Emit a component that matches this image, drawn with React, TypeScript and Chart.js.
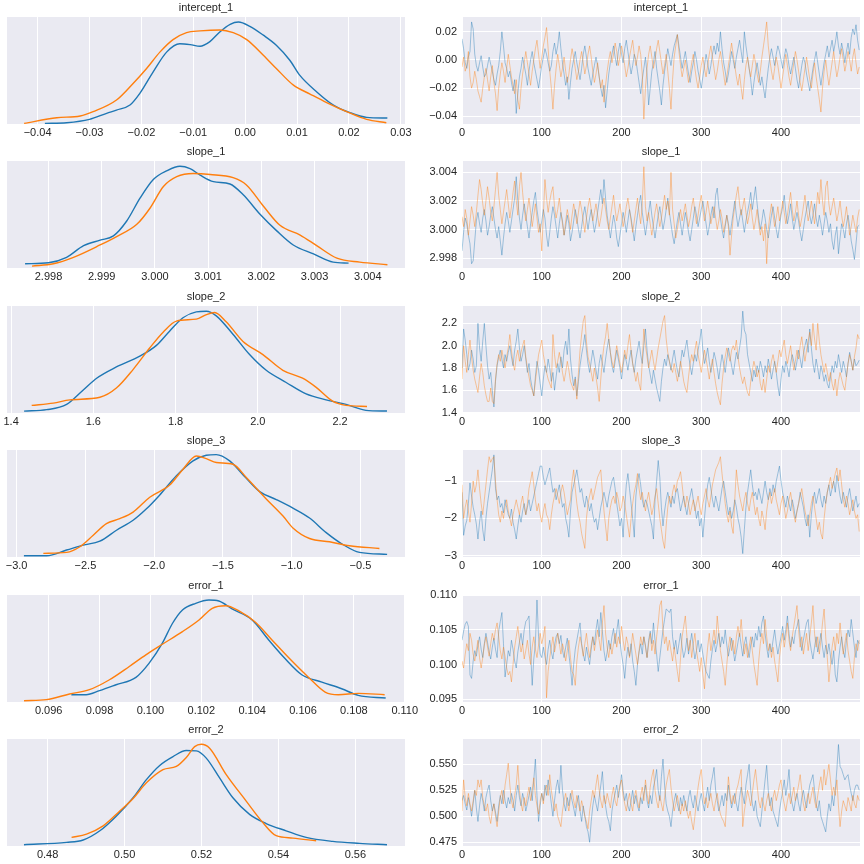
import React, { useEffect, useRef } from 'react';
import { Chart, registerables } from 'chart.js';

Chart.register(...registerables);

// ---------- styling constants ----------
const BLUE = '#1f77b4';
const ORANGE = '#ff7f0e';
const BLUE_TRACE = 'rgba(31,119,180,0.4)';
const ORANGE_TRACE = 'rgba(255,127,14,0.4)';
const TEXT = '#262626';
const PLOT_BG = '#EAEAF2';
const FONT_FAMILY = "'Liberation Sans', Arial, Helvetica, sans-serif";

// ---------- trace data (every 2nd iteration of 500) ----------
const ITER_STEP = 2;
const TRACE_X_TICKS = [0, 100, 200, 300, 400];

const interceptTraceBlue = [
  0.015, 0.008, -0.002, -0.006, 0.002, 0.006, 0.027, 0.022, 0.004, -0.004,
  -0.008, -0.002, 0.003, -0.005, -0.012, -0.010, -0.004, 0.002, -0.003, -0.008,
  -0.014, -0.018, -0.010, -0.004, 0.006, 0.020, 0.010, -0.002, -0.006, -0.012,
  -0.008, -0.016, -0.022, -0.014, -0.038, -0.024, -0.012, -0.006, 0.002, -0.004,
  -0.010, -0.018, -0.008, 0, 0.006, -0.002, -0.008, -0.014, -0.020, -0.012,
  -0.004, 0.002, 0.008, 0.004, -0.002, -0.008, -0.004, 0.006, 0.012, 0.004,
  0.010, 0.020, 0.008, -0.002, -0.010, -0.018, -0.012, -0.028, -0.016, -0.006,
  0, 0.006, -0.002, -0.008, -0.014, -0.006, 0.004, 0.010, 0.002, -0.006,
  -0.012, -0.018, -0.010, -0.004, 0.002, -0.004, -0.012, -0.020, -0.026, -0.018,
  -0.034, -0.022, -0.010, -0.002, 0.004, 0.010, 0.002, -0.004, 0.006, 0.012,
  0.004, -0.002, 0.008, 0.014, 0.006, -0.002, -0.010, -0.004, 0.004, 0,
  -0.008, -0.016, -0.024, -0.014, -0.006, 0.002, -0.010, -0.032, -0.020, -0.008,
  -0.002, 0.006, -0.006, -0.014, -0.022, -0.032, -0.018, -0.008, 0, 0.008,
  0.002, -0.004, 0.004, 0.010, 0.014, 0.018, 0.010, 0.002, -0.006, 0,
  0.006, -0.002, -0.010, -0.016, -0.008, -0.002, 0.006, 0, -0.008, -0.014,
  -0.020, -0.012, -0.004, 0.004, -0.002, -0.010, -0.004, 0.004, 0.010, 0.004,
  0.012, 0.006, 0.020, 0.008, -0.002, -0.008, -0.016, -0.010, -0.002, 0.006,
  0, -0.006, 0.002, 0.008, 0.014, 0.006, -0.002, 0.020, 0.010, 0.002,
  -0.006, -0.014, -0.025, -0.016, -0.008, -0.002, -0.010, -0.018, -0.012, -0.020,
  -0.027, -0.016, -0.006, 0.002, 0.008, 0.002, -0.004, 0.004, 0.010, 0.006,
  0, -0.006, 0.002, 0.008, 0.004, -0.004, -0.010, -0.004, 0.002, -0.006,
  -0.014, -0.020, -0.012, -0.004, 0.002, -0.002, -0.010, -0.016, -0.022, -0.014,
  -0.006, 0, 0.006, -0.002, -0.010, -0.018, -0.010, -0.002, 0.004, 0.010,
  0.002, 0.008, 0.014, 0.006, 0.012, 0.020, 0.010, 0.004, 0.012, 0.006,
  -0.002, 0.006, 0.012, 0.004, 0.016, 0.022, 0.018, 0.025, 0.014, 0.007,
];
const interceptTraceOrange = [
  -0.005, 0.002, -0.008, -0.004, 0.006, -0.012, -0.020, -0.016, -0.008, -0.014,
  -0.022, -0.026, -0.030, -0.020, -0.012, -0.006, -0.014, -0.022, -0.012, -0.004,
  -0.016, -0.024, -0.036, -0.020, -0.010, -0.002, -0.008, -0.016, -0.006, 0.004,
  -0.004, -0.012, -0.018, -0.024, -0.014, -0.028, -0.035, -0.020, -0.010, -0.002,
  0.006, -0.002, -0.010, -0.018, -0.008, 0, 0.008, 0.014, 0.004, -0.006,
  0.002, 0.010, 0.016, 0.023, 0.008, -0.008, -0.020, -0.035, -0.018, -0.006,
  0.004, -0.004, -0.012, -0.006, 0.002, -0.008, -0.016, -0.010, 0, 0.008,
  0.002, -0.006, -0.014, -0.008, 0, 0.006, -0.002, -0.010, -0.004, 0.004,
  0.010, 0.002, -0.008, -0.016, -0.010, -0.002, -0.012, -0.020, -0.014, -0.030,
  -0.018, -0.008, 0, 0.006, -0.002, 0.004, 0.012, 0.006, -0.004, 0.002,
  0.010, 0.004, -0.004, -0.012, -0.006, 0.002, 0.008, 0.014, 0.004, -0.004,
  0.002, 0.010, 0.004, -0.010, -0.042, -0.020, -0.006, 0.004, 0.010, 0.002,
  -0.006, 0, 0.008, 0.014, 0.006, -0.002, -0.010, -0.004, 0.004, -0.008,
  -0.020, -0.035, -0.014, 0.002, 0.010, 0.018, 0.006, -0.004, -0.012, -0.006,
  0, -0.008, -0.016, -0.010, -0.002, 0.004, -0.006, -0.014, -0.020, -0.012,
  -0.004, 0.002, -0.006, -0.012, -0.004, 0.004, 0.010, 0.002, -0.006, -0.014,
  -0.008, 0, 0.006, -0.002, -0.010, -0.018, -0.012, -0.004, 0.004, 0.012,
  0.004, -0.004, -0.012, -0.018, -0.010, -0.020, -0.028, -0.014, -0.004, 0.002,
  -0.006, -0.012, -0.004, 0.004, -0.002, -0.010, -0.016, -0.008, 0.002, 0.010,
  0.018, 0.027, 0.010, 0, -0.008, -0.014, -0.006, 0.002, -0.004, -0.012,
  -0.020, -0.012, -0.004, 0.004, -0.004, -0.012, -0.018, -0.010, -0.002, 0.006,
  0, -0.008, -0.016, -0.022, -0.014, -0.006, 0.002, -0.006, -0.014, -0.020,
  -0.010, -0.002, -0.012, -0.020, -0.028, -0.037, -0.020, -0.008, 0, -0.010,
  -0.018, -0.010, -0.002, 0.006, -0.004, -0.012, -0.006, 0.002, 0.008, 0,
  -0.008, -0.002, 0.006, 0, -0.008, 0.002, 0.008, -0.002, -0.010, -0.005,
];

const slope1TraceBlue = [
  2.9985, 2.9998, 3.0008, 3.0004, 2.9996, 2.9990, 2.9976, 2.9978, 2.9992, 3.0006,
  3.0012, 3.0004, 2.9998, 3.0008, 3.0014, 3.0006, 2.9996, 3.0002, 3.0010, 3.0016,
  3.0008, 3.0000, 2.9994, 3.0002, 2.9992, 2.9982, 2.9994, 3.0004, 3.0012, 3.0006,
  2.9998, 3.0006, 3.0014, 3.0022, 3.0037, 3.0020, 3.0008, 3.0000, 3.0010, 3.0018,
  3.0010, 3.0002, 2.9994, 3.0004, 3.0012, 3.0020, 3.0026, 3.0014, 3.0006, 2.9998,
  3.0006, 3.0014, 3.0008, 2.9996, 2.9988, 2.9998, 3.0008, 3.0016, 3.0010, 3.0002,
  2.9994, 3.0004, 3.0012, 3.0006, 2.9996, 3.0002, 3.0010, 3.0004, 2.9992, 2.9998,
  3.0006, 3.0014, 3.0008, 3.0000, 2.9994, 3.0002, 3.0010, 3.0016, 3.0008, 3.0000,
  3.0008, 3.0014, 3.0006, 2.9998, 3.0004, 3.0012, 3.0020, 3.0028, 3.0018, 3.0035,
  3.0022, 3.0010, 3.0002, 2.9994, 3.0002, 3.0010, 3.0004, 2.9994, 2.9988, 2.9996,
  3.0004, 3.0012, 3.0006, 2.9998, 3.0006, 3.0014, 3.0008, 3.0000, 2.9992, 3.0002,
  3.0010, 3.0018, 3.0024, 3.0012, 3.0004, 2.9996, 3.0004, 3.0012, 3.0020, 3.0010,
  3.0002, 2.9994, 3.0002, 3.0010, 3.0016, 3.0008, 3.0000, 3.0006, 3.0014, 3.0022,
  3.0012, 3.0004, 2.9996, 2.9990, 2.9998, 3.0006, 3.0012, 3.0004, 2.9996, 3.0004,
  3.0012, 3.0006, 2.9998, 2.9992, 3.0000, 3.0008, 3.0016, 3.0010, 3.0002, 3.0008,
  3.0014, 3.0020, 3.0012, 3.0004, 2.9996, 3.0002, 3.0010, 3.0016, 3.0008, 3.0024,
  3.0029, 3.0016, 3.0008, 3.0000, 2.9994, 3.0002, 3.0010, 3.0004, 2.9996, 3.0004,
  3.0012, 3.0020, 3.0010, 3.0002, 3.0008, 3.0014, 3.0006, 2.9998, 3.0006, 3.0012,
  3.0018, 3.0026, 3.0014, 3.0022, 3.0030, 3.0018, 3.0008, 3.0000, 3.0006, 3.0014,
  3.0008, 3.0000, 2.9994, 3.0002, 3.0010, 3.0016, 3.0008, 3.0000, 2.9994, 3.0002,
  3.0010, 3.0016, 3.0024, 3.0012, 3.0004, 3.0010, 3.0018, 3.0008, 3.0000, 3.0006,
  3.0012, 3.0006, 2.9998, 2.9992, 3.0000, 3.0008, 3.0014, 3.0020, 3.0010, 3.0004,
  3.0010, 3.0018, 3.0008, 3.0002, 3.0010, 3.0004, 2.9996, 3.0004, 3.0012, 3.0006,
  2.9998, 3.0004, 2.9992, 2.9986, 2.9996, 3.0002, 2.9983, 2.9994, 3.0004, 3.0000,
  2.9994, 3.0004, 3.0010, 3.0002, 2.9992, 2.9986, 2.9979, 2.9990, 3.0002, 3.0003,
];
const slope1TraceOrange = [
  3.0009, 3.0002, 3.0014, 3.0008, 2.9996, 3.0006, 3.0016, 3.0010, 3.0002, 3.0012,
  3.0024, 3.0035, 3.0028, 3.0018, 3.0010, 3.0020, 3.0030, 3.0022, 3.0012, 3.0006,
  3.0016, 3.0028, 3.0040, 3.0024, 3.0014, 3.0004, 3.0012, 3.0020, 3.0028, 3.0018,
  3.0008, 3.0016, 3.0026, 3.0034, 3.0020, 3.0010, 3.0030, 3.0040, 3.0026, 3.0014,
  3.0006, 3.0014, 3.0022, 3.0012, 3.0002, 3.0010, 3.0018, 3.0008, 2.9998, 3.0004,
  2.9985, 3.0010, 3.0035, 3.0022, 3.0012, 3.0020, 3.0026, 3.0030, 3.0016, 3.0008,
  3.0014, 3.0022, 3.0012, 3.0004, 2.9996, 3.0006, 3.0014, 3.0008, 3.0000, 3.0010,
  3.0018, 3.0012, 3.0004, 3.0012, 3.0020, 3.0014, 3.0006, 2.9998, 3.0008, 3.0016,
  3.0022, 3.0014, 3.0006, 3.0012, 3.0018, 3.0010, 3.0002, 3.0008, 3.0016, 3.0022,
  3.0014, 3.0006, 3.0000, 3.0008, 3.0016, 3.0024, 3.0014, 3.0006, 3.0012, 3.0018,
  3.0010, 3.0002, 3.0008, 3.0016, 3.0022, 3.0014, 3.0006, 2.9998, 3.0006, 3.0014,
  3.0022, 3.0012, 3.0004, 3.0018, 3.0044, 3.0016, 3.0006, 3.0012, 3.0004, 2.9996,
  3.0004, 3.0012, 3.0018, 3.0010, 3.0002, 3.0008, 3.0016, 3.0024, 3.0014, 3.0020,
  3.0010, 3.0040, 3.0014, 3.0004, 2.9994, 3.0000, 3.0008, 3.0014, 3.0006, 3.0012,
  3.0018, 3.0010, 3.0002, 3.0008, 3.0016, 3.0022, 3.0012, 3.0004, 3.0010, 3.0018,
  3.0024, 3.0014, 3.0006, 3.0012, 3.0020, 3.0012, 3.0004, 3.0010, 3.0016, 3.0008,
  3.0000, 3.0006, 3.0014, 3.0008, 2.9998, 3.0004, 3.0010, 3.0002, 2.9982, 2.9996,
  3.0008, 3.0016, 3.0024, 3.0030, 3.0018, 3.0010, 3.0016, 3.0022, 3.0012, 3.0004,
  3.0010, 3.0018, 3.0008, 3.0000, 3.0006, 3.0014, 3.0004, 2.9996, 3.0002, 2.9992,
  3.0004, 2.9976, 3.0000, 3.0010, 3.0018, 3.0010, 3.0002, 3.0008, 3.0016, 3.0006,
  3.0012, 3.0020, 3.0012, 3.0004, 3.0010, 3.0018, 3.0026, 3.0014, 3.0006, 3.0012,
  3.0020, 3.0010, 3.0002, 3.0008, 3.0016, 3.0024, 3.0014, 3.0006, 3.0012, 3.0020,
  3.0012, 3.0004, 3.0014, 3.0026, 3.0018, 3.0035, 3.0020, 3.0010, 3.0030, 3.0034,
  3.0018, 3.0010, 3.0016, 3.0022, 3.0014, 3.0006, 3.0012, 3.0020, 3.0010, 3.0002,
  3.0008, 3.0016, 3.0006, 2.9996, 3.0002, 3.0010, 3.0004, 2.9998, 3.0008, 3.0014,
];

const slope2TraceBlue = [
  1.80, 2.15, 2.05, 1.92, 1.78, 1.84, 1.96, 1.88, 1.76, 1.82,
  2.20, 1.98, 1.86, 2.04, 2.20, 2.00, 1.82, 1.70, 1.76, 1.60,
  1.45, 1.68, 1.82, 1.90, 1.96, 1.88, 1.80, 1.92, 1.86, 1.94,
  2.00, 1.90, 1.82, 1.96, 2.04, 2.15, 1.98, 1.86, 1.92, 2.00,
  1.88, 1.76, 1.84, 1.70, 1.62, 1.55, 1.72, 1.86, 1.78, 1.66,
  1.55, 1.70, 1.82, 1.76, 1.88, 1.80, 1.68, 1.76, 1.60, 1.72,
  1.84, 1.76, 1.90, 1.80, 1.96, 2.04, 1.92, 2.15, 1.88, 1.74,
  1.64, 1.72, 1.55, 1.68, 1.82, 1.92, 2.00, 2.10, 1.96, 1.84,
  1.76, 1.86, 1.96, 1.88, 1.78, 1.70, 1.84, 1.92, 1.84, 1.76,
  1.88, 1.98, 2.06, 1.94, 1.82, 1.76, 1.86, 1.96, 1.88, 1.80,
  1.70, 1.82, 1.92, 1.86, 1.78, 1.88, 1.96, 1.84, 1.76, 1.88,
  1.96, 2.04, 1.92, 1.84, 2.00, 2.15, 1.96, 1.82, 1.74, 1.66,
  1.78, 1.70, 1.62, 1.56, 1.50, 1.68, 1.80, 1.88, 1.82, 1.92,
  1.86, 1.78, 1.88, 1.96, 1.86, 1.78, 1.72, 1.84, 1.96, 1.90,
  1.98, 2.05, 1.92, 1.82, 1.74, 1.84, 1.92, 1.86, 1.96, 2.04,
  2.15, 1.96, 1.84, 1.90, 1.98, 1.86, 1.76, 1.84, 1.94, 1.88,
  1.80, 1.70, 1.82, 1.92, 1.84, 1.76, 1.88, 1.98, 1.90, 1.82,
  1.74, 1.84, 1.94, 1.88, 1.98, 2.08, 2.31, 2.14, 2.10, 1.92,
  1.84, 1.76, 1.68, 1.78, 1.72, 1.82, 1.76, 1.86, 1.80, 1.72,
  1.82, 1.76, 1.88, 1.80, 1.70, 1.78, 1.86, 1.76, 1.64, 1.55,
  1.70, 1.82, 1.76, 1.86, 1.80, 1.72, 1.84, 1.92, 1.86, 1.78,
  1.86, 1.96, 1.88, 1.80, 1.92, 2.00, 2.06, 1.94, 2.15, 1.98,
  1.84, 1.76, 1.88, 1.80, 1.70, 1.82, 1.76, 1.68, 1.74, 1.66,
  1.62, 1.72, 1.82, 1.76, 1.86, 1.80, 1.92, 1.84, 1.76, 1.86,
  1.80, 1.72, 1.84, 1.94, 1.86, 1.78, 1.88, 1.82, 1.84, 1.87,
];
const slope2TraceOrange = [
  1.70, 2.00, 1.86, 1.76, 1.92, 2.05, 1.90, 1.78, 1.70, 1.64,
  1.58, 1.72, 1.84, 1.76, 1.64, 1.56, 1.50, 1.50, 1.62, 1.50,
  1.48, 1.70, 1.84, 1.92, 1.86, 1.96, 1.88, 1.80, 1.90, 1.98,
  2.10, 1.96, 1.84, 1.78, 1.90, 1.96, 1.86, 1.94, 2.00, 2.05,
  1.90, 1.80, 1.72, 1.64, 1.60, 1.55, 1.68, 1.80, 1.92, 1.98,
  2.05, 1.92, 1.84, 1.76, 1.70, 1.66, 1.62, 2.10, 1.92, 1.80,
  1.86, 1.94, 1.86, 1.76, 1.68, 1.76, 1.86, 1.78, 1.68, 1.64,
  1.60, 1.70, 1.52, 1.76, 1.96, 2.10, 2.22, 2.27, 2.04, 1.90,
  1.84, 1.76, 1.68, 1.80, 1.72, 1.62, 1.50, 1.70, 1.88, 2.00,
  2.08, 2.20, 2.06, 1.94, 1.86, 1.80, 1.90, 2.00, 1.92, 1.84,
  1.76, 1.86, 1.96, 1.88, 2.00, 2.10, 1.96, 1.84, 1.76, 1.68,
  1.76, 1.66, 1.60, 1.86, 2.15, 2.00, 1.90, 1.80, 1.88, 1.96,
  1.86, 1.78, 1.88, 1.98, 2.06, 2.14, 2.22, 2.27, 2.06, 1.94,
  1.86, 1.80, 1.76, 1.84, 1.76, 1.68, 1.76, 1.86, 1.78, 1.68,
  1.62, 1.58, 1.72, 1.84, 1.92, 1.86, 1.96, 2.04, 1.92, 1.84,
  1.76, 1.86, 1.96, 1.88, 1.80, 1.70, 1.80, 1.88, 1.76, 1.66,
  1.58, 1.52, 1.47, 1.66, 1.80, 1.90, 1.98, 1.92, 1.86, 1.96,
  2.00, 1.96, 2.05, 1.90, 1.80, 1.72, 1.66, 1.72, 1.64, 1.58,
  1.55, 1.68, 1.78, 1.86, 1.80, 1.72, 1.78, 1.66, 1.60, 1.70,
  1.58, 1.70, 1.82, 1.76, 1.86, 1.92, 1.84, 1.76, 1.86, 1.96,
  1.90, 1.98, 2.05, 1.92, 1.84, 1.92, 2.00, 1.88, 1.78, 1.86,
  1.96, 1.88, 2.00, 2.08, 1.96, 1.86, 1.96, 2.04, 2.12, 2.00,
  2.20, 2.06, 1.96, 2.20, 2.04, 1.92, 1.84, 1.76, 1.84, 1.76,
  1.68, 1.76, 1.66, 1.60, 1.70, 1.55, 1.68, 1.76, 1.70, 1.64,
  1.60, 1.72, 1.84, 1.92, 1.86, 1.78, 1.90, 1.98, 2.10, 2.06,
];

const slope3TraceBlue = [
  -1.30, -2.45, -2.20, -2.05, -1.60, -1.05, -1.40, -1.70, -1.90, -2.15,
  -2.55, -2.10, -1.80, -2.30, -2.60, -2.00, -1.60, -1.30, -1.00, -0.70,
  -0.30, -1.20, -1.50, -1.40, -1.70, -1.60, -1.85, -1.50, -1.70, -1.90,
  -2.00, -1.75, -2.10, -2.30, -2.55, -2.20, -1.90, -2.10, -1.80, -1.60,
  -1.90, -1.70, -1.50, -1.80, -1.60, -1.40, -1.20, -1.00, -0.80, -0.60,
  -0.60, -0.90, -1.10, -0.95, -0.80, -0.65, -1.00, -1.30, -1.20, -1.50,
  -1.30, -1.10, -1.40, -1.70, -1.60, -2.00, -2.20, -2.50, -1.80, -1.30,
  -1.10, -0.90, -0.70, -1.00, -1.30, -1.20, -1.50, -1.70, -1.40, -1.60,
  -1.80, -1.60, -1.90, -2.10, -2.00, -2.30, -2.00, -1.70, -1.50, -1.30,
  -1.50, -1.70, -1.40, -1.20, -1.00, -0.90, -1.20, -1.60, -1.90, -2.20,
  -2.00, -2.50, -1.70, -1.10, -0.80, -1.20, -1.60, -2.00, -2.50, -1.40,
  -1.00, -0.80, -1.10, -1.50, -1.70, -1.50, -1.60, -1.80, -2.00, -2.20,
  -2.55, -1.50, -1.00, -0.45, -0.90, -1.70, -2.20, -1.80, -1.50, -1.30,
  -1.50, -1.70, -1.40, -1.60, -1.30, -1.20, -1.50, -1.80, -1.60, -1.40,
  -1.70, -1.90, -1.60, -1.40, -1.20, -1.50, -1.70, -2.00, -1.80, -2.20,
  -2.00, -2.50, -2.00, -1.50, -1.10, -0.90, -1.20, -1.50, -1.70, -1.40,
  -1.60, -1.80, -1.50, -1.20, -1.00, -1.30, -1.60, -1.90, -1.70, -2.00,
  -1.80, -1.50, -1.70, -2.00, -2.20, -2.50, -2.94, -2.30, -1.70, -1.30,
  -1.00, -0.70, -1.10, -1.40, -1.30, -1.50, -1.20, -1.40, -1.60, -1.30,
  -1.00, -1.30, -1.50, -1.20, -1.40, -1.10, -1.30, -1.00, -0.80, -0.60,
  -1.00, -1.30, -1.50, -1.70, -1.40, -1.60, -1.80, -1.50, -1.70, -2.00,
  -1.80, -1.60, -1.30, -1.50, -1.70, -2.00, -2.20, -1.90, -2.50, -1.90,
  -1.50, -1.30, -1.60, -1.40, -1.20, -1.50, -1.70, -1.40, -1.60, -1.30,
  -1.10, -1.40, -1.20, -1.00, -1.30, -0.85, -1.10, -1.40, -1.60, -1.30,
  -1.50, -1.70, -1.40, -1.20, -1.50, -1.80, -1.60, -1.40, -1.70, -1.60,
];
const slope3TraceOrange = [
  -1.10, -2.00, -1.70, -1.50, -1.80, -2.10, -1.60, -1.00, -1.30, -1.10,
  -0.70, -1.20, -1.60, -1.90, -1.50, -1.10, -0.70, -0.35, -0.50, -0.40,
  -0.35, -1.00, -1.50, -1.90, -2.10, -1.80, -2.00, -1.70, -1.50, -1.80,
  -2.00, -2.20, -1.90, -1.70, -1.50, -1.70, -1.90, -1.60, -1.40, -1.70,
  -1.90, -1.60, -1.20, -1.00, -0.75, -1.10, -1.50, -1.80, -1.60, -1.90,
  -2.10, -1.80, -1.60, -1.90, -2.00, -2.30, -1.90, -1.60, -1.40, -1.20,
  -1.40, -1.60, -1.30, -1.10, -1.30, -1.60, -1.90, -1.70, -1.50, -1.00,
  -0.70, -1.20, -1.60, -1.90, -2.10, -2.40, -2.60, -2.80, -2.00, -1.60,
  -1.40, -1.20, -1.50, -1.30, -1.10, -0.90, -0.80, -0.70, -1.30, -1.80,
  -2.20, -2.60, -2.00, -1.70, -1.50, -1.40, -1.60, -1.30, -1.50, -1.80,
  -1.70, -1.40, -1.60, -1.90, -2.20, -2.50, -2.00, -1.60, -1.30, -1.10,
  -0.80, -1.20, -1.50, -1.30, -1.60, -1.80, -1.50, -1.30, -1.60, -1.90,
  -1.70, -1.40, -1.20, -1.60, -2.00, -2.30, -2.60, -2.80, -2.20, -1.70,
  -1.40, -1.60, -1.30, -1.10, -1.30, -1.00, -0.90, -0.75, -1.10, -1.50,
  -1.70, -1.40, -1.60, -1.90, -1.70, -1.50, -1.80, -1.60, -1.40, -1.70,
  -1.90, -1.60, -1.40, -1.20, -1.50, -1.70, -1.40, -1.10, -0.90, -0.70,
  -0.60, -0.50, -0.35, -0.80, -1.20, -1.60, -1.90, -2.10, -1.80, -2.20,
  -2.40, -1.50, -0.70, -1.10, -1.40, -1.60, -1.80, -1.50, -1.30, -1.60,
  -1.80, -1.50, -1.30, -1.60, -1.90, -1.70, -2.00, -2.20, -1.80, -2.00,
  -2.30, -1.80, -1.50, -1.30, -1.60, -1.40, -1.20, -1.50, -1.70, -1.90,
  -1.60, -1.40, -1.70, -2.00, -1.80, -1.50, -1.30, -1.60, -1.90, -2.10,
  -1.80, -1.60, -1.40, -1.20, -1.50, -1.80, -2.00, -2.20, -1.90, -1.60,
  -1.40, -1.70, -2.00, -2.30, -2.10, -2.40, -2.55, -2.00, -1.60, -1.30,
  -1.10, -0.90, -1.20, -1.00, -0.80, -0.65, -1.00, -0.70, -1.10, -1.50,
  -1.70, -1.40, -1.60, -1.90, -1.70, -1.50, -1.80, -2.00, -1.90, -2.35,
];

const error1TraceBlue = [
  0.1035, 0.1048, 0.1058, 0.1062, 0.1055, 0.0985, 0.0980, 0.1005, 0.1020, 0.1012,
  0.1028, 0.1040, 0.1022, 0.1010, 0.1030, 0.1045, 0.1032, 0.1018, 0.1008, 0.1025,
  0.1038, 0.1022, 0.1010, 0.1048, 0.1062, 0.1075, 0.1030, 0.0982, 0.1000, 0.1020,
  0.1012, 0.1035, 0.1022, 0.1005, 0.0995, 0.1018, 0.1032, 0.1045, 0.1028, 0.1050,
  0.1062, 0.1065, 0.1070, 0.1020, 0.0970, 0.1008, 0.1030, 0.1093, 0.1040, 0.1015,
  0.1010, 0.1025, 0.1012, 0.1000, 0.1022, 0.1035, 0.1018, 0.1008, 0.1028, 0.1040,
  0.1045, 0.1030, 0.1042, 0.1020, 0.1010, 0.1025, 0.1038, 0.1015, 0.0995, 0.0970,
  0.1000, 0.1022, 0.1035, 0.1048, 0.1060, 0.1030, 0.1015, 0.1005, 0.1025, 0.1012,
  0.1000, 0.1022, 0.1040, 0.1028, 0.1050, 0.1065, 0.1040, 0.1075, 0.1048, 0.1020,
  0.1005, 0.1018, 0.1035, 0.1022, 0.1040, 0.1052, 0.1030, 0.1048, 0.1065, 0.1035,
  0.1015, 0.1000, 0.0980, 0.1008, 0.1025, 0.1012, 0.1030, 0.1005, 0.0990, 0.0970,
  0.1000, 0.1018, 0.1030, 0.1015, 0.1040, 0.1028, 0.1010, 0.1035, 0.1048, 0.1030,
  0.1060, 0.1035, 0.1015, 0.0990, 0.1010, 0.1030, 0.1050, 0.1065, 0.1080, 0.1078,
  0.1075, 0.1080, 0.1040, 0.1022, 0.1035, 0.1015, 0.1030, 0.1045, 0.1025, 0.1010,
  0.1020, 0.1038, 0.1015, 0.1030, 0.1045, 0.1025, 0.1008, 0.1020, 0.1035, 0.1018,
  0.1030, 0.1015, 0.1000, 0.0990, 0.0985, 0.0980, 0.1005, 0.1022, 0.1035, 0.1018,
  0.1030, 0.1045, 0.1025, 0.1040, 0.1030, 0.1050, 0.1028, 0.1012, 0.1025, 0.1038,
  0.1020, 0.1005, 0.1018, 0.1032, 0.1045, 0.1028, 0.1012, 0.1030, 0.1040, 0.1022,
  0.1010, 0.1028, 0.1040, 0.1025, 0.1045, 0.1035, 0.1055, 0.1040, 0.1060, 0.1070,
  0.1045, 0.1025, 0.1010, 0.1030, 0.1018, 0.1035, 0.1050, 0.1030, 0.1015, 0.1028,
  0.1040, 0.1055, 0.1035, 0.1050, 0.1070, 0.1045, 0.1025, 0.1040, 0.1030, 0.1048,
  0.1055, 0.1065, 0.1040, 0.1020, 0.1035, 0.1048, 0.1060, 0.1065, 0.1035, 0.1020,
  0.1008, 0.1025, 0.1040, 0.1018, 0.1030, 0.1045, 0.1025, 0.1010, 0.1028, 0.1015,
  0.1030, 0.1012, 0.1000, 0.1020, 0.0985, 0.0975, 0.1005, 0.1025, 0.1040, 0.1020,
  0.1010, 0.1035, 0.1050, 0.1040, 0.1065, 0.1045, 0.1025, 0.1010, 0.1035, 0.1030,
];
const error1TraceOrange = [
  0.1005, 0.0995, 0.1015, 0.1030, 0.1020, 0.1045, 0.1035, 0.1015, 0.1005, 0.1020,
  0.1035, 0.1010, 0.0995, 0.1010, 0.1028, 0.1040, 0.1025, 0.1012, 0.1030, 0.1045,
  0.1035, 0.1050, 0.1060, 0.1040, 0.1020, 0.1008, 0.1025, 0.1012, 0.0995, 0.0985,
  0.0990, 0.0975, 0.1000, 0.1025, 0.1040, 0.1055, 0.1035, 0.1018, 0.1030, 0.1008,
  0.1020, 0.1035, 0.1015, 0.1000, 0.1025, 0.1040, 0.1022, 0.1010, 0.1028, 0.1045,
  0.1030, 0.1040, 0.1055, 0.0952, 0.0990, 0.1010, 0.1025, 0.1040, 0.1018, 0.1030,
  0.1045, 0.1030, 0.1015, 0.1030, 0.1020, 0.1005, 0.1020, 0.1035, 0.1010, 0.0990,
  0.0985, 0.0970, 0.1005, 0.1025, 0.1040, 0.1028, 0.1012, 0.1030, 0.1045, 0.1025,
  0.1010, 0.1028, 0.1040, 0.1020, 0.1035, 0.1050, 0.1035, 0.1020, 0.1060, 0.1085,
  0.1045, 0.1025, 0.1010, 0.1030, 0.1015, 0.1030, 0.1045, 0.1025, 0.1040, 0.1030,
  0.1055, 0.1035, 0.1020, 0.1040, 0.1030, 0.1010, 0.1025, 0.1045, 0.1030, 0.1015,
  0.1000, 0.1020, 0.1040, 0.1028, 0.1040, 0.1025, 0.1010, 0.1030, 0.1045, 0.1020,
  0.1035, 0.1015, 0.1040, 0.1060, 0.1085, 0.1092, 0.1050, 0.1030, 0.1040, 0.1020,
  0.1035, 0.1020, 0.1005, 0.1025, 0.1008, 0.0990, 0.0975, 0.1010, 0.1040, 0.1055,
  0.1070, 0.1040, 0.1020, 0.1035, 0.1010, 0.1030, 0.1045, 0.1020, 0.1005, 0.0990,
  0.1010, 0.0985, 0.0965, 0.1000, 0.1025, 0.1045, 0.1020, 0.1035, 0.1050, 0.1030,
  0.1070, 0.1045, 0.1020, 0.1005, 0.0990, 0.0970, 0.1000, 0.1025, 0.1040, 0.1020,
  0.1035, 0.1015, 0.1040, 0.1055, 0.1040, 0.1065, 0.1035, 0.1015, 0.1030, 0.1010,
  0.1025, 0.1040, 0.1020, 0.1000, 0.0985, 0.0970, 0.1005, 0.1030, 0.1045, 0.1030,
  0.1065, 0.1040, 0.1020, 0.1030, 0.1010, 0.1025, 0.1005, 0.0990, 0.0975, 0.1010,
  0.1030, 0.1045, 0.1025, 0.1040, 0.1060, 0.1035, 0.1020, 0.1040, 0.1055, 0.1070,
  0.1085, 0.1050, 0.1025, 0.1040, 0.1015, 0.1030, 0.1045, 0.1020, 0.1040, 0.1060,
  0.1085, 0.1045, 0.1025, 0.1040, 0.1015, 0.1035, 0.1060, 0.1080, 0.1040, 0.1010,
  0.0975, 0.1000, 0.1025, 0.1040, 0.1020, 0.1045, 0.1030, 0.1060, 0.1035, 0.1015,
  0.1030, 0.1045, 0.1020, 0.1005, 0.0990, 0.0980, 0.1010, 0.1030, 0.1020, 0.1035,
];

const error2TraceBlue = [
  0.515, 0.520, 0.512, 0.506, 0.518, 0.510, 0.500, 0.512, 0.525, 0.508,
  0.495, 0.510, 0.522, 0.515, 0.505, 0.518, 0.525, 0.530, 0.515, 0.505,
  0.512, 0.504, 0.495, 0.510, 0.520, 0.512, 0.525, 0.515, 0.508, 0.518,
  0.512, 0.522, 0.515, 0.505, 0.520, 0.530, 0.518, 0.510, 0.522, 0.515,
  0.505, 0.512, 0.520, 0.528, 0.515, 0.535, 0.555, 0.520, 0.495, 0.510,
  0.522, 0.515, 0.530, 0.520, 0.535, 0.525, 0.512, 0.500, 0.515, 0.528,
  0.535, 0.522, 0.549, 0.525, 0.512, 0.505, 0.518, 0.510, 0.522, 0.515,
  0.508, 0.500, 0.512, 0.520, 0.505, 0.495, 0.510, 0.500, 0.490, 0.485,
  0.475, 0.495, 0.510, 0.520, 0.512, 0.505, 0.518, 0.530, 0.543, 0.520,
  0.510, 0.500, 0.495, 0.486, 0.505, 0.515, 0.522, 0.530, 0.518, 0.528,
  0.540, 0.525, 0.515, 0.522, 0.510, 0.505, 0.515, 0.525, 0.512, 0.520,
  0.510, 0.505, 0.518, 0.512, 0.522, 0.530, 0.515, 0.508, 0.520, 0.512,
  0.528, 0.535, 0.545, 0.525, 0.515, 0.538, 0.555, 0.530, 0.512, 0.505,
  0.500, 0.490, 0.505, 0.515, 0.522, 0.512, 0.505, 0.518, 0.510, 0.520,
  0.512, 0.505, 0.518, 0.525, 0.515, 0.508, 0.520, 0.512, 0.505, 0.515,
  0.522, 0.512, 0.505, 0.518, 0.528, 0.515, 0.530, 0.538, 0.547, 0.525,
  0.515, 0.505, 0.512, 0.520, 0.510, 0.522, 0.515, 0.530, 0.518, 0.508,
  0.515, 0.522, 0.512, 0.505, 0.518, 0.528, 0.520, 0.512, 0.530, 0.540,
  0.550, 0.525, 0.512, 0.505, 0.515, 0.500, 0.495, 0.490, 0.505, 0.520,
  0.535, 0.549, 0.525, 0.510, 0.518, 0.505, 0.500, 0.495, 0.490, 0.505,
  0.515, 0.525, 0.535, 0.520, 0.530, 0.545, 0.520, 0.512, 0.505, 0.515,
  0.522, 0.512, 0.505, 0.518, 0.525, 0.515, 0.508, 0.520, 0.530, 0.535,
  0.540, 0.525, 0.512, 0.505, 0.515, 0.500, 0.495, 0.490, 0.485, 0.500,
  0.512, 0.505, 0.520, 0.510, 0.525, 0.545, 0.569, 0.548, 0.545, 0.540,
  0.535, 0.538, 0.540, 0.530, 0.522, 0.515, 0.525, 0.530, 0.530, 0.525,
];
const error2TraceOrange = [
  0.505, 0.535, 0.518, 0.510, 0.522, 0.512, 0.505, 0.515, 0.525, 0.520,
  0.535, 0.528, 0.535, 0.518, 0.510, 0.505, 0.512, 0.500, 0.493, 0.505,
  0.512, 0.500, 0.490, 0.505, 0.518, 0.525, 0.512, 0.530, 0.540, 0.551,
  0.530, 0.515, 0.508, 0.520, 0.530, 0.549, 0.525, 0.512, 0.505, 0.518,
  0.510, 0.520, 0.528, 0.515, 0.525, 0.537, 0.520, 0.510, 0.502, 0.515,
  0.522, 0.512, 0.525, 0.530, 0.520, 0.540, 0.525, 0.515, 0.505, 0.512,
  0.500, 0.495, 0.490, 0.505, 0.515, 0.522, 0.512, 0.505, 0.518, 0.525,
  0.515, 0.508, 0.520, 0.512, 0.505, 0.515, 0.508, 0.500, 0.495, 0.488,
  0.505, 0.515, 0.525, 0.518, 0.530, 0.540, 0.525, 0.515, 0.508, 0.520,
  0.512, 0.522, 0.515, 0.508, 0.520, 0.528, 0.515, 0.510, 0.522, 0.530,
  0.535, 0.520, 0.512, 0.505, 0.515, 0.522, 0.512, 0.505, 0.518, 0.525,
  0.515, 0.508, 0.520, 0.528, 0.515, 0.535, 0.522, 0.512, 0.528, 0.538,
  0.545, 0.525, 0.515, 0.508, 0.520, 0.512, 0.505, 0.518, 0.530, 0.538,
  0.545, 0.528, 0.515, 0.505, 0.512, 0.520, 0.510, 0.502, 0.512, 0.505,
  0.515, 0.505, 0.498, 0.505, 0.495, 0.487, 0.500, 0.515, 0.528, 0.538,
  0.545, 0.525, 0.512, 0.518, 0.508, 0.515, 0.522, 0.512, 0.505, 0.515,
  0.522, 0.510, 0.502, 0.498, 0.495, 0.490, 0.515, 0.538, 0.522, 0.512,
  0.520, 0.512, 0.525, 0.530, 0.538, 0.545, 0.490, 0.505, 0.515, 0.525,
  0.518, 0.510, 0.522, 0.535, 0.545, 0.530, 0.515, 0.508, 0.518, 0.512,
  0.505, 0.515, 0.522, 0.512, 0.505, 0.518, 0.525, 0.515, 0.522, 0.530,
  0.535, 0.520, 0.512, 0.505, 0.515, 0.522, 0.512, 0.520, 0.528, 0.515,
  0.522, 0.530, 0.540, 0.525, 0.512, 0.505, 0.515, 0.522, 0.512, 0.520,
  0.528, 0.515, 0.508, 0.520, 0.530, 0.538, 0.525, 0.545, 0.530, 0.540,
  0.550, 0.535, 0.520, 0.528, 0.520, 0.535, 0.510, 0.490, 0.505, 0.515,
  0.510, 0.505, 0.518, 0.512, 0.505, 0.520, 0.512, 0.508, 0.520, 0.515,
];

// ---------- KDE data (x = parameter value, y = relative density) ----------
const interceptKdeBlueX = [-0.0386, -0.0344, -0.0300, -0.0267, -0.0248, -0.0222, -0.0203, -0.0177, -0.0151, -0.0126, -0.0106, -0.0087, -0.0068, -0.0049, -0.0029, -0.0013, 0.0009, 0.0035, 0.0060, 0.0086, 0.0105, 0.0138, 0.0170, 0.0202, 0.0234, 0.0274];
const interceptKdeBlueY = [0.006, 0.012, 0.043, 0.100, 0.130, 0.177, 0.286, 0.490, 0.674, 0.750, 0.742, 0.727, 0.770, 0.860, 0.932, 0.953, 0.913, 0.830, 0.736, 0.596, 0.457, 0.300, 0.177, 0.106, 0.062, 0.056];
const interceptKdeOrangeX = [-0.0426, -0.0363, -0.0318, -0.0293, -0.0248, -0.0216, -0.0190, -0.0164, -0.0139, -0.0113, -0.0087, -0.0049, -0.0023, 0.0003, 0.0035, 0.0060, 0.0093, 0.0125, 0.0157, 0.0200, 0.0234, 0.0272];
const interceptKdeOrangeY = [0.006, 0.059, 0.075, 0.115, 0.224, 0.379, 0.519, 0.674, 0.789, 0.854, 0.870, 0.879, 0.854, 0.789, 0.643, 0.519, 0.363, 0.280, 0.200, 0.106, 0.043, 0.012];

const slope1KdeBlueX = [2.99756, 2.99800, 2.99834, 2.99866, 2.99897, 2.99922, 2.99947, 2.99972, 2.99997, 3.00022, 3.00047, 3.00066, 3.00085, 3.00110, 3.00141, 3.00166, 3.00198, 3.00229, 3.00260, 3.00298, 3.00335, 3.00364];
const slope1KdeBlueY = [0.040, 0.049, 0.100, 0.209, 0.260, 0.300, 0.439, 0.653, 0.828, 0.908, 0.951, 0.929, 0.868, 0.807, 0.785, 0.684, 0.500, 0.347, 0.215, 0.132, 0.055, 0.046];
const slope1KdeOrangeX = [2.99769, 2.99809, 2.99847, 2.99897, 2.99928, 2.99966, 2.99991, 3.00016, 3.00041, 3.00072, 3.00104, 3.00147, 3.00172, 3.00204, 3.00235, 3.00273, 3.00304, 3.00342, 3.00385, 3.00437];
const slope1KdeOrangeY = [0.018, 0.040, 0.100, 0.215, 0.294, 0.408, 0.561, 0.761, 0.853, 0.883, 0.874, 0.844, 0.776, 0.577, 0.399, 0.307, 0.209, 0.092, 0.055, 0.031];

const slope2KdeBlueX = [1.4315, 1.4866, 1.535, 1.5755, 1.608, 1.656, 1.713, 1.7535, 1.7859, 1.818, 1.8505, 1.8748, 1.899, 1.9395, 1.980, 2.0205, 2.069, 2.1175, 2.166, 2.2146, 2.263, 2.3142];
const slope2KdeBlueY = [0.018, 0.031, 0.080, 0.215, 0.325, 0.430, 0.531, 0.632, 0.767, 0.890, 0.945, 0.951, 0.908, 0.736, 0.546, 0.399, 0.285, 0.178, 0.123, 0.080, 0.025, 0.018];
const slope2KdeOrangeX = [1.450, 1.5027, 1.543, 1.616, 1.656, 1.697, 1.737, 1.7697, 1.802, 1.8505, 1.875, 1.895, 1.923, 1.964, 2.0124, 2.061, 2.109, 2.142, 2.182, 2.2146, 2.2656];
const slope2KdeOrangeY = [0.071, 0.092, 0.123, 0.147, 0.233, 0.408, 0.607, 0.755, 0.859, 0.877, 0.920, 0.939, 0.853, 0.669, 0.546, 0.399, 0.325, 0.239, 0.110, 0.071, 0.061];

const slope3KdeBlueX = [-2.947, -2.782, -2.637, -2.516, -2.395, -2.274, -2.153, -2.056, -1.959, -1.838, -1.717, -1.621, -1.548, -1.451, -1.330, -1.233, -1.112, -0.991, -0.870, -0.749, -0.628, -0.507, -0.306];
const slope3KdeBlueY = [0.012, 0.012, 0.065, 0.111, 0.148, 0.250, 0.343, 0.450, 0.580, 0.759, 0.898, 0.951, 0.957, 0.898, 0.735, 0.611, 0.537, 0.457, 0.364, 0.228, 0.117, 0.043, 0.025];
const slope3KdeOrangeX = [-2.806, -2.637, -2.540, -2.443, -2.347, -2.250, -2.153, -2.032, -1.887, -1.790, -1.693, -1.621, -1.548, -1.427, -1.330, -1.185, -1.063, -0.991, -0.870, -0.725, -0.580, -0.362];
const slope3KdeOrangeY = [0.034, 0.043, 0.096, 0.204, 0.312, 0.358, 0.420, 0.559, 0.673, 0.821, 0.944, 0.920, 0.883, 0.867, 0.744, 0.543, 0.383, 0.272, 0.173, 0.142, 0.105, 0.080];

const error1KdeBlueX = [0.09689, 0.09747, 0.09800, 0.09865, 0.09943, 0.09995, 0.10047, 0.10087, 0.10126, 0.10178, 0.10230, 0.10269, 0.10321, 0.10400, 0.10465, 0.10530, 0.10595, 0.10674, 0.10752, 0.10817, 0.10925];
const error1KdeBlueY = [0.068, 0.068, 0.106, 0.161, 0.230, 0.363, 0.550, 0.736, 0.860, 0.922, 0.953, 0.944, 0.870, 0.767, 0.580, 0.404, 0.255, 0.186, 0.124, 0.062, 0.037];
const error1KdeOrangeX = [0.09503, 0.09591, 0.09682, 0.09760, 0.09839, 0.09917, 0.09982, 0.10047, 0.10126, 0.10191, 0.10243, 0.10296, 0.10348, 0.10413, 0.10478, 0.10543, 0.10622, 0.10687, 0.10739, 0.10817, 0.10921];
const error1KdeOrangeY = [0.012, 0.022, 0.075, 0.115, 0.208, 0.332, 0.441, 0.540, 0.658, 0.767, 0.876, 0.900, 0.851, 0.745, 0.580, 0.416, 0.230, 0.093, 0.068, 0.081, 0.068];

const error2KdeBlueX = [0.47386, 0.48493, 0.48925, 0.49358, 0.49790, 0.50222, 0.50568, 0.50914, 0.51260, 0.51605, 0.51865, 0.52124, 0.52470, 0.52816, 0.53249, 0.53681, 0.54200, 0.54719, 0.55411, 0.56103, 0.56821];
const error2KdeBlueY = [0.012, 0.034, 0.056, 0.142, 0.281, 0.451, 0.620, 0.753, 0.836, 0.892, 0.889, 0.821, 0.636, 0.451, 0.296, 0.210, 0.142, 0.080, 0.043, 0.025, 0.012];
const error2KdeOrangeX = [0.48623, 0.49012, 0.49444, 0.49876, 0.50222, 0.50568, 0.51000, 0.51346, 0.51605, 0.51822, 0.51995, 0.52211, 0.52643, 0.53162, 0.53595, 0.53941, 0.54373, 0.54980];
const error2KdeOrangeY = [0.080, 0.111, 0.188, 0.327, 0.444, 0.590, 0.713, 0.744, 0.827, 0.929, 0.951, 0.914, 0.667, 0.420, 0.219, 0.096, 0.074, 0.049];

// ---------- panel definitions ----------
const kdePanels = [
  { title: 'intercept_1', xMin: -0.0459, xMax: 0.0308, step: 0.01, dec: 2, bx: interceptKdeBlueX, by: interceptKdeBlueY, ox: interceptKdeOrangeX, oy: interceptKdeOrangeY },
  { title: 'slope_1', xMin: 2.99722, xMax: 3.0047, step: 0.001, dec: 3, bx: slope1KdeBlueX, by: slope1KdeBlueY, ox: slope1KdeOrangeX, oy: slope1KdeOrangeY },
  { title: 'slope_2', xMin: 1.39, xMax: 2.358, step: 0.2, dec: 1, bx: slope2KdeBlueX, by: slope2KdeBlueY, ox: slope2KdeOrangeX, oy: slope2KdeOrangeY },
  { title: 'slope_3', xMin: -3.07, xMax: -0.176, step: 0.5, dec: 1, bx: slope3KdeBlueX, by: slope3KdeBlueY, ox: slope3KdeOrangeX, oy: slope3KdeOrangeY },
  { title: 'error_1', xMin: 0.09436, xMax: 0.11001, step: 0.002, dec: 3, bx: error1KdeBlueX, by: error1KdeBlueY, ox: error1KdeOrangeX, oy: error1KdeOrangeY },
  { title: 'error_2', xMin: 0.46945, xMax: 0.57289, step: 0.02, dec: 2, bx: error2KdeBlueX, by: error2KdeBlueY, ox: error2KdeOrangeX, oy: error2KdeOrangeY },
];

const tracePanels = [
  { title: 'intercept_1', yMin: -0.0455, yMax: 0.0305, step: 0.02, dec: 2, blue: interceptTraceBlue, orange: interceptTraceOrange },
  { title: 'slope_1', yMin: 2.9973, yMax: 3.0048, step: 0.002, dec: 3, blue: slope1TraceBlue, orange: slope1TraceOrange },
  { title: 'slope_2', yMin: 1.396, yMax: 2.356, step: 0.2, dec: 1, blue: slope2TraceBlue, orange: slope2TraceOrange },
  { title: 'slope_3', yMin: -3.03, yMax: -0.17, step: 1, dec: 0, blue: slope3TraceBlue, orange: slope3TraceOrange },
  { title: 'error_1', yMin: 0.0946, yMax: 0.11002, step: 0.005, dec: 3, blue: error1TraceBlue, orange: error1TraceOrange },
  { title: 'error_2', yMin: 0.4714, yMax: 0.5743, step: 0.025, dec: 3, blue: error2TraceBlue, orange: error2TraceOrange },
];

const TRACE_X_MAX = 499;
const ROW_TOPS = [0, 144, 289, 433, 578, 722];

// ---------- helpers ----------
const fmt = (dec: number) => (v: any) => {
  let n = Number(v);
  if (Math.abs(n) < 1e-12) n = 0;
  return n.toFixed(dec).replace('-', '\u2212');
};

const bgPlugin = {
  id: 'plotBg',
  beforeDraw(chart: any) {
    const { ctx, chartArea } = chart;
    if (!chartArea) return;
    ctx.save();
    ctx.fillStyle = PLOT_BG;
    ctx.fillRect(chartArea.left, chartArea.top, chartArea.right - chartArea.left, chartArea.bottom - chartArea.top);
    ctx.restore();
  },
};

const tickFont = { family: FONT_FAMILY, size: 11 };

const titleOpts = (text: string) => ({
  display: true,
  text,
  color: TEXT,
  fullSize: false,
  font: { family: FONT_FAMILY, size: 11, weight: 'normal', lineHeight: 1 },
  padding: { top: 2, bottom: 4 },
});

const xAxisBase = (min: number, max: number, step: number, dec: number, fixedTicks?: number[]) => {
  const axis: any = {
    type: 'linear',
    min,
    max,
    border: { display: false },
    grid: { color: '#ffffff', lineWidth: 1, drawTicks: false },
    ticks: {
      stepSize: step,
      includeBounds: false,
      autoSkip: false,
      maxRotation: 0,
      minRotation: 0,
      padding: 2,
      color: TEXT,
      font: tickFont,
      callback: fmt(dec),
    },
    afterFit: (s: any) => {
      s.height = 20;
    },
  };
  if (fixedTicks) {
    axis.afterBuildTicks = (s: any) => {
      s.ticks = fixedTicks.map((value) => ({ value }));
    };
  }
  return axis;
};

function kdeConfig(p: any): any {
  return {
    type: 'line',
    data: {
      datasets: [
        {
          data: p.ox.map((x: number, i: number) => ({ x, y: p.oy[i] })),
          borderColor: ORANGE,
          borderWidth: 1.4,
          pointRadius: 0,
          cubicInterpolationMode: 'monotone',
          fill: false,
        },
        {
          data: p.bx.map((x: number, i: number) => ({ x, y: p.by[i] })),
          borderColor: BLUE,
          borderWidth: 1.4,
          pointRadius: 0,
          cubicInterpolationMode: 'monotone',
          fill: false,
        },
      ],
    },
    options: {
      responsive: false,
      animation: false,
      events: [],
      layout: { padding: { left: 7, right: 27, top: 0, bottom: 0 } },
      plugins: { legend: { display: false }, tooltip: { enabled: false }, title: titleOpts(p.title) },
      scales: {
        x: xAxisBase(p.xMin, p.xMax, p.step, p.dec),
        y: { type: 'linear', display: false, min: 0, max: 1 },
      },
    },
    plugins: [bgPlugin],
  };
}

function traceConfig(p: any): any {
  const toPts = (arr: number[]) => arr.map((y, i) => ({ x: i * ITER_STEP, y }));
  return {
    type: 'line',
    data: {
      datasets: [
        { data: toPts(p.orange), borderColor: ORANGE_TRACE, borderWidth: 1, pointRadius: 0, tension: 0, fill: false },
        { data: toPts(p.blue), borderColor: BLUE_TRACE, borderWidth: 1, pointRadius: 0, tension: 0, fill: false },
      ],
    },
    options: {
      responsive: false,
      animation: false,
      events: [],
      layout: { padding: { left: 0, right: 4, top: 0, bottom: 0 } },
      plugins: { legend: { display: false }, tooltip: { enabled: false }, title: titleOpts(p.title) },
      scales: {
        x: xAxisBase(0, TRACE_X_MAX, 100, 0, TRACE_X_TICKS),
        y: {
          type: 'linear',
          min: p.yMin,
          max: p.yMax,
          border: { display: false },
          grid: { color: '#ffffff', lineWidth: 1, drawTicks: false },
          ticks: {
            stepSize: p.step,
            includeBounds: false,
            autoSkip: false,
            padding: 5,
            color: TEXT,
            font: tickFont,
            callback: fmt(p.dec),
          },
          afterFit: (s: any) => {
            s.width = 42;
          },
        },
      },
    },
    plugins: [bgPlugin],
  };
}

function ChartCanvas({ left, top, width, height, config }: any) {
  const ref = useRef<HTMLCanvasElement | null>(null);
  useEffect(() => {
    if (!ref.current) return;
    const chart = new Chart(ref.current, config());
    return () => chart.destroy();
  }, []);
  return (
    <canvas
      ref={ref}
      width={width}
      height={height}
      style={{ position: 'absolute', left, top, width, height }}
    />
  );
}

export default function App() {
  return (
    <div
      style={{
        position: 'absolute',
        left: 0,
        top: 0,
        width: 864,
        height: 864,
        background: '#ffffff',
        overflow: 'hidden',
      }}
    >
      {kdePanels.map((p, r) => (
        <ChartCanvas key={'k' + r} left={0} top={ROW_TOPS[r]} width={432} height={144} config={() => kdeConfig(p)} />
      ))}
      {tracePanels.map((p, r) => (
        <ChartCanvas key={'t' + r} left={420} top={ROW_TOPS[r]} width={444} height={144} config={() => traceConfig(p)} />
      ))}
    </div>
  );
}
